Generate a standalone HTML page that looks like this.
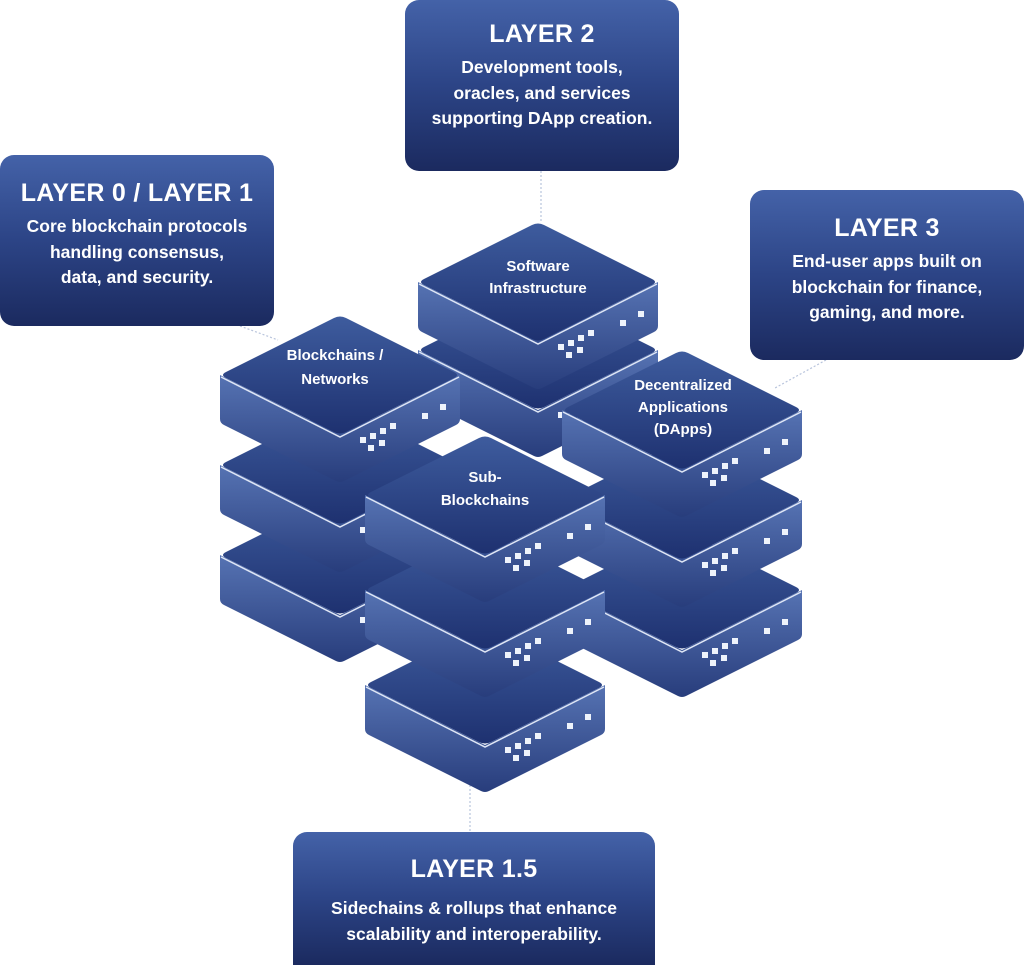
<!DOCTYPE html>
<html><head><meta charset="utf-8"><style>
html,body{margin:0;padding:0;background:#fff;}
body{width:1024px;height:965px;position:relative;overflow:hidden;font-family:"Liberation Sans",sans-serif;}
.box{position:absolute;border-radius:14px;background:linear-gradient(180deg,#4462a8 0%,#2c4486 50%,#1b2a5f 100%);color:#fff;text-align:center;font-weight:bold;box-sizing:border-box;}
.box h2{margin:0;font-size:25px;line-height:30px;letter-spacing:0.3px;}
.box p{margin:0;font-size:17.5px;line-height:25.5px;}
svg{position:absolute;left:0;top:0;}
</style></head><body>
<svg width="1024" height="965" viewBox="0 0 1024 965">
<defs>
<linearGradient id="tg" x1="0" y1="0" x2="0" y2="1">
<stop offset="0" stop-color="#3e5c9e"/><stop offset="1" stop-color="#1e3170"/></linearGradient>
<linearGradient id="sg" x1="0" y1="0" x2="0" y2="1">
<stop offset="0" stop-color="#5673b3"/><stop offset="1" stop-color="#283d7c"/></linearGradient>
<g id="blk">
<path d="M-120,60 L0,120 L120,60 L120,104 Q120,108 116,110 L4,166 Q0,168 -4,166 L-116,110 Q-120,108 -120,104 Z" fill="url(#sg)"/>
<path d="M-6,3 Q0,0 6,3 L114,57 Q120,60 114,63 L6,117 Q0,120 -6,117 L-114,63 Q-120,60 -114,57 Z" fill="url(#tg)"/>
<path d="M-119,62 L0,122 L119,62" fill="none" stroke="#dfe6f5" stroke-width="1.5"/>
<g fill="#eef3fb">
<rect x="20" y="122" width="6" height="6"/><rect x="30" y="118" width="6" height="6"/><rect x="40" y="113" width="6" height="6"/><rect x="50" y="108" width="6" height="6"/>
<rect x="28" y="130" width="6" height="6"/><rect x="39" y="125" width="6" height="6"/>
<rect x="82" y="98" width="6" height="6"/><rect x="100" y="89" width="6" height="6"/>
</g>
</g>
</defs>
<g stroke="#b8c4dc" stroke-width="1.2" stroke-dasharray="2,2" fill="none">
<line x1="541" y1="171" x2="541" y2="222"/>
<line x1="240" y1="326" x2="278" y2="340"/>
<line x1="826" y1="360" x2="775" y2="388"/>
<line x1="470" y1="785" x2="470" y2="832"/>
</g>
<!-- software stack -->
<use href="#blk" transform="translate(538,290)"/>
<use href="#blk" transform="translate(538,222)"/>
<!-- blockchains stack -->
<use href="#blk" transform="translate(340,495)"/>
<use href="#blk" transform="translate(340,405)"/>
<use href="#blk" transform="translate(340,315)"/>
<!-- dapps stack -->
<use href="#blk" transform="translate(682,530)"/>
<use href="#blk" transform="translate(682,440)"/>
<use href="#blk" transform="translate(682,350)"/>
<!-- sub stack -->
<use href="#blk" transform="translate(485,625)"/>
<use href="#blk" transform="translate(485,530)"/>
<use href="#blk" transform="translate(485,435)"/>
<g fill="#fff" font-family="Liberation Sans, sans-serif" font-weight="bold" font-size="15" text-anchor="middle">
<text x="538" y="271">Software</text><text x="538" y="293">Infrastructure</text>
<text x="335" y="360">Blockchains /</text><text x="335" y="384">Networks</text>
<text x="683" y="390">Decentralized</text><text x="683" y="412">Applications</text><text x="683" y="434">(DApps)</text>
<text x="485" y="482">Sub-</text><text x="485" y="505">Blockchains</text>
</g>
</svg>
<div class="box" style="left:405px;top:0;width:274px;height:171px;padding-top:19px;"><h2>LAYER 2</h2><p style="margin-top:6px">Development tools,<br>oracles, and services<br>supporting DApp creation.</p></div>
<div class="box" style="left:0;top:155px;width:274px;height:171px;padding-top:23px;"><h2>LAYER 0 / LAYER 1</h2><p style="margin-top:6px">Core blockchain protocols<br>handling consensus,<br>data, and security.</p></div>
<div class="box" style="left:750px;top:190px;width:274px;height:170px;padding-top:23px;"><h2>LAYER 3</h2><p style="margin-top:6px">End-user apps built on<br>blockchain for finance,<br>gaming, and more.</p></div>
<div class="box" style="left:293px;top:832px;width:362px;height:133px;padding-top:22px;border-radius:14px 14px 0 0;"><h2>LAYER 1.5</h2><p style="margin-top:12px">Sidechains &amp; rollups that enhance<br>scalability and interoperability.</p></div>
</body></html>
